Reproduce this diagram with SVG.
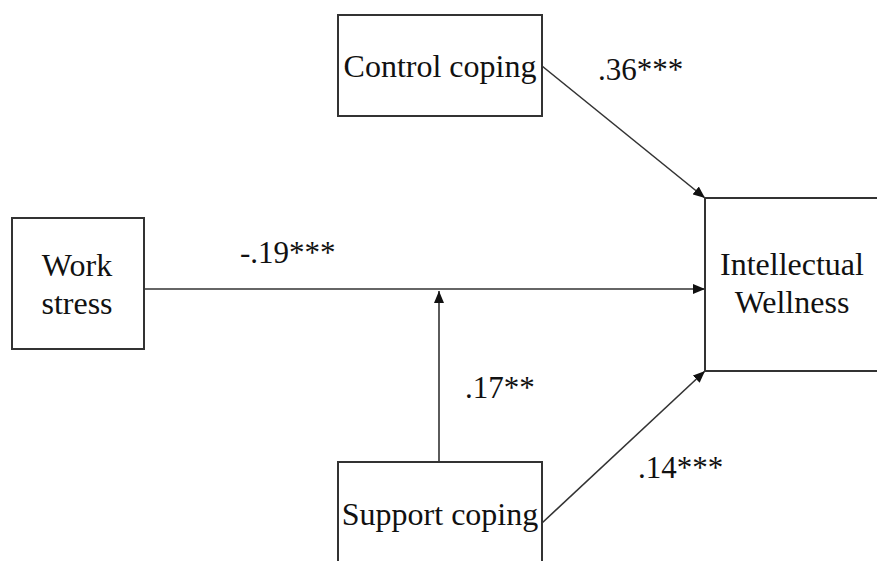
<svg xmlns="http://www.w3.org/2000/svg" width="877" height="561" viewBox="0 0 877 561">
  <style>
    .box { fill: #ffffff; stroke: #333333; stroke-width: 2; }
    text { font-family: "Times New Roman", "Liberation Serif", "Noto Serif", "DejaVu Serif", serif; fill: #111111; }
    .lbl { font-size: 32px; }
    .coef { font-size: 31px; }
    .edge { stroke: #333333; stroke-width: 1.6; fill: none; }
  </style>
  <defs>
    <marker id="arrow" viewBox="0 0 12 10" refX="12" refY="5" markerWidth="12" markerHeight="10" markerUnits="userSpaceOnUse" orient="auto">
      <path d="M0,0 L12,5 L0,10 z" fill="#111111"/>
    </marker>
  </defs>
  <rect width="877" height="561" fill="#ffffff"/>

  <!-- paths and their coefficients -->
  <g id="connectors">
    <line class="edge" x1="144" y1="289" x2="705" y2="289" marker-end="url(#arrow)"/>
    <line class="edge" x1="439" y1="462" x2="439" y2="291" marker-end="url(#arrow)"/>
    <line class="edge" x1="542" y1="66" x2="705" y2="198" marker-end="url(#arrow)"/>
    <line class="edge" x1="542" y1="523" x2="705" y2="371" marker-end="url(#arrow)"/>
    <text class="coef" x="240" y="263">-.19***</text>
    <text class="coef" x="598" y="80">.36***</text>
    <text class="coef" x="465" y="398">.17**</text>
    <text class="coef" x="638" y="478">.14***</text>
  </g>

  <g id="control-coping">
    <rect class="box" x="338" y="15" width="204" height="101"/>
    <text class="lbl" x="440" y="77" text-anchor="middle">Control coping</text>
  </g>

  <g id="work-stress">
    <rect class="box" x="12" y="218" width="132" height="131"/>
    <text class="lbl" x="77" y="276" text-anchor="middle">Work</text>
    <text class="lbl" x="77" y="314" text-anchor="middle">stress</text>
  </g>

  <g id="intellectual-wellness">
    <rect class="box" x="705" y="198" width="190" height="173"/>
    <text class="lbl" x="792" y="275" text-anchor="middle">Intellectual</text>
    <text class="lbl" x="792" y="313" text-anchor="middle">Wellness</text>
  </g>

  <g id="support-coping">
    <rect class="box" x="338" y="462" width="204" height="120"/>
    <text class="lbl" x="440" y="525" text-anchor="middle">Support coping</text>
  </g>
</svg>
